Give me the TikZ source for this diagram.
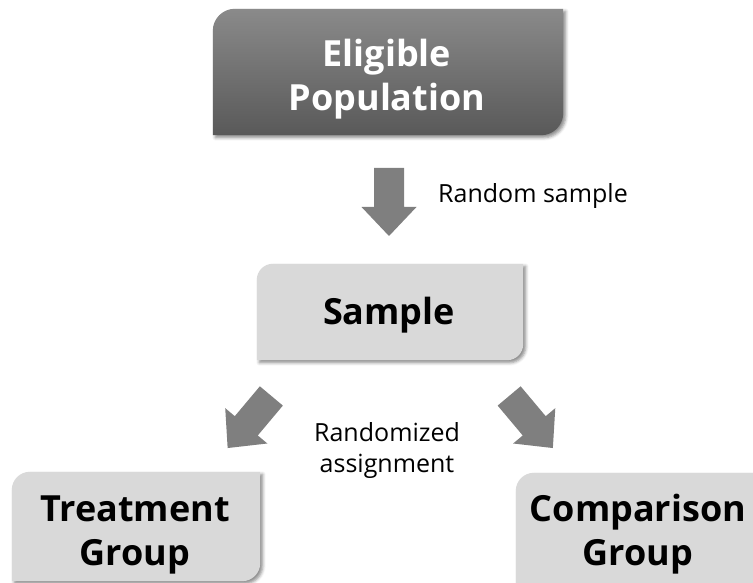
\documentclass[tikz,border=0pt]{standalone}
\usepackage{fontspec}
\setmainfont{Open Sans}
\usetikzlibrary{backgrounds,shadows.blur}
\definecolor{boxlight}{HTML}{D9D9D9}
\definecolor{boxtop}{HTML}{8A8A8A}
\definecolor{boxbot}{HTML}{595959}
\definecolor{arrowgray}{HTML}{7F7F7F}
\tikzset{
  boxframe/.style={rectangle, inner sep=0pt, draw=none},
  bigtext/.style={font=\bfseries\fontsize{36}{44}\selectfont, align=center, inner sep=0pt},
  smalltext/.style={font=\fontsize{25}{31}\selectfont, align=center, inner sep=0pt},
  shadowed/.style={blur shadow={shadow xshift=2.5pt, shadow yshift=-2.5pt, shadow blur radius=3pt, shadow opacity=45}},
  blockarrow/.style={fill=arrowgray, draw=none},
}
% #1 node name, #2 corner radius (pt), #3 fill style
\newcommand\diagshape[3]{%
  \path[#3] (#1.south west) -- ([yshift=-#2pt]#1.north west)
    arc[start angle=180, end angle=90, radius=#2pt]
    -- (#1.north east) -- ([yshift=#2pt]#1.south east)
    arc[start angle=0, end angle=-90, radius=#2pt] -- cycle;}
\newcommand\arrowshape{(-15,-34) -- (15,-34) -- (15,5) -- (27.5,5) -- (0,34) -- (-27.5,5) -- (-15,5) -- cycle}
\begin{document}
\begin{tikzpicture}[x=1pt, y=1pt]
\useasboundingbox (0,0) rectangle (753,583);
\clip (0,0) rectangle (753,583);
% box frames
\node[boxframe, minimum width=350pt, minimum height=126pt] (popbox) at (388,511) {};
\node[boxframe, minimum width=266pt, minimum height=96pt] (samplebox) at (390,271) {};
\node[boxframe, minimum width=248pt, minimum height=109pt] (treatbox) at (136,56.5) {};
\node[boxframe, minimum width=244pt, minimum height=119pt] (compbox) at (638,50.5) {};
\begin{pgfonlayer}{background}
  \diagshape{popbox}{22}{shadowed, top color=boxtop, bottom color=boxbot}
  \diagshape{samplebox}{16}{shadowed, fill=boxlight}
  \diagshape{treatbox}{18}{shadowed, fill=boxlight}
  \diagshape{compbox}{18}{shadowed, fill=boxlight}
\end{pgfonlayer}
% texts
\node[bigtext, text=white] (pop) at (387,503.4) {Eligible\\Population};
\node[bigtext, anchor=base] (sample) at (389,258) {Sample};
\node[bigtext] (treat) at (135,48) {Treatment\\Group};
\node[bigtext] (comp) at (638,49) {Comparison\\Group};
\node[smalltext, anchor=base west] (rs) at (438,380) {Random sample};
\node[smalltext] (ra) at (387,132.7) {Randomized\\assignment};
% block arrows
\coordinate (a1) at (389,381);
\coordinate (a2) at (249.5,161);
\coordinate (a3) at (531,161);
\fill[blockarrow, shift={(a1)}, rotate=180] \arrowshape;
\fill[blockarrow, shift={(a2)}, rotate=180-40] \arrowshape;
\fill[blockarrow, shift={(a3)}, rotate=180+40] \arrowshape;
\end{tikzpicture}
\end{document}
